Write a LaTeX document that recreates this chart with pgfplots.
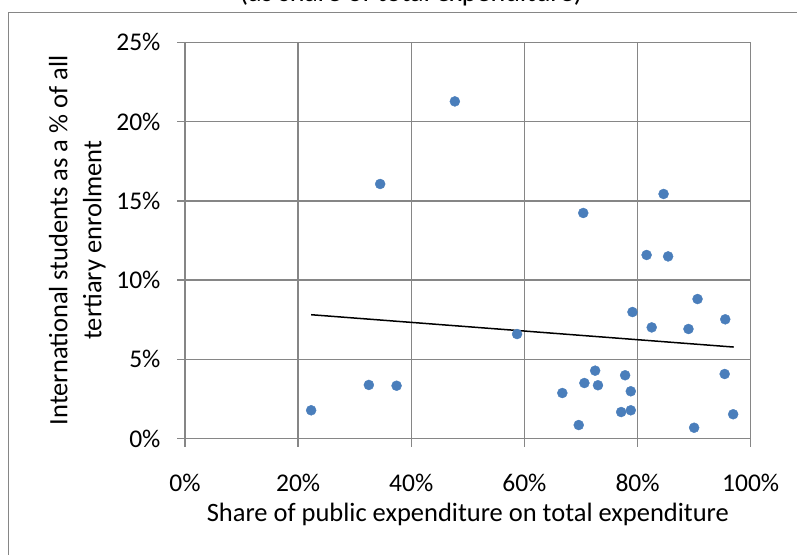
\documentclass[border=0pt]{standalone}
\usepackage{fontspec}
\setmainfont{Carlito}
\usepackage{pgfplots}
\pgfplotsset{compat=1.18}
\definecolor{dotblue}{HTML}{4A7EBB}
\definecolor{gridgray}{HTML}{868686}

\begin{document}
\begin{tikzpicture}
  % page = 797 x 554 (1px = 1pt)
  \path[use as bounding box] (0pt,0pt) rectangle (797pt,554pt);
  % chart frame, only left and top edges fall on the page
  \draw[gridgray, line width=1pt] (8pt,-20pt) -- (8pt,541pt) -- (830pt,541pt);

  \begin{axis}[
      at={(185pt,115.5pt)}, anchor=south west,
      scale only axis,
      width=565.7pt, height=396.2pt,
      xmin=0, xmax=100, ymin=0, ymax=25,
      xtick={0,20,...,100}, ytick={0,5,...,25},
      xticklabels={0\%,20\%,40\%,60\%,80\%,100\%},
      yticklabels={0\%,5\%,10\%,15\%,20\%,25\%},
      axis lines*=left,
      axis line style={gridgray, line width=1.5pt},
      grid=major,
      grid style={gridgray, line width=1.5pt},
      tick align=outside,
      major tick length=8pt,
      tick style={gridgray, line width=1.5pt},
      tick label style={font=\fontsize{25.5}{30}\selectfont, text=black},
      xticklabel style={anchor=base, yshift=-44.5pt},
      yticklabel style={anchor=east, xshift=-13pt},
      xlabel={Share of public expenditure on total expenditure},
      xlabel style={at={(axis description cs:0.5,-0.21)}, anchor=base,
        font=\fontsize{26.5}{32}\selectfont},
      ylabel={International students as a \% of all\\tertiary enrolment},
      ylabel style={at={(axis description cs:-0.14,0.5)}, anchor=south,
        inner sep=0pt, align=center, font=\fontsize{26.5}{34}\selectfont},
      title={(as share of total expenditure)},
      title style={at={(axis description cs:0.3995,1.088)}, anchor=base,
        font=\fontsize{28}{34}\selectfont},
    ]

    % countries
    \addplot[only marks, mark=*, mark size=5pt, color=dotblue] coordinates {
      (47.7,21.27) (34.5,16.06) (84.6,15.43) (70.4,14.23) (81.6,11.58)
      (85.4,11.49) (90.6,8.80) (79.1,7.98) (95.5,7.52) (82.5,7.01)
      (89.0,6.91) (58.7,6.59) (72.5,4.28) (77.8,3.99) (95.4,4.07)
      (70.6,3.50) (73.0,3.36) (78.8,2.98) (66.7,2.87) (77.1,1.67)
      (78.8,1.78) (96.9,1.53) (69.6,0.85) (90.0,0.68) (32.5,3.38)
      (37.4,3.33) (22.3,1.78)
    };

    % linear trend
    \addplot[black, line width=1.5pt] coordinates {(22.3,7.81) (97.0,5.77)};
  \end{axis}
\end{tikzpicture}
\end{document}
